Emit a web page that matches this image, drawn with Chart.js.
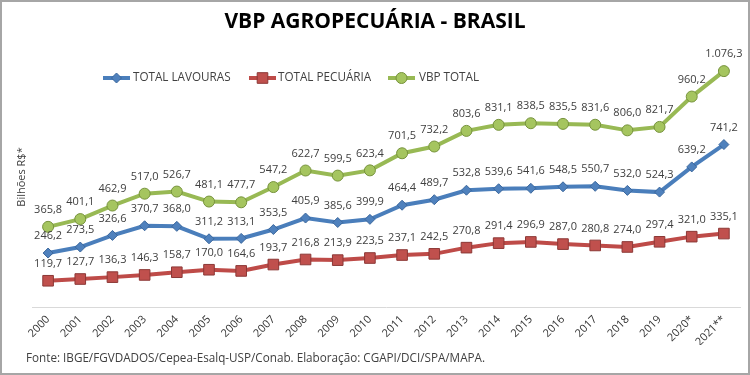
<!DOCTYPE html>
<html>
<head>
<meta charset="utf-8">
<script src="https://cdn.jsdelivr.net/npm/chart.js@4/dist/chart.umd.min.js"></script>
<style>
  html, body { margin: 0; padding: 0; background: #fff; }
  #wrap { width: 750px; height: 375px; position: relative; }
</style>
</head>
<body>
<div id="wrap"><canvas id="vbpChart" width="750" height="375"></canvas></div>
<script>
// anos e valores (bilhões R$)
const years = ['2000','2001','2002','2003','2004','2005','2006','2007','2008','2009','2010',
  '2011','2012','2013','2014','2015','2016','2017','2018','2019','2020*','2021**'];
const lavouras = [246.2, 273.5, 326.6, 370.7, 368.0, 311.2, 313.1, 353.5, 405.9, 385.6, 399.9,
  464.4, 489.7, 532.8, 539.6, 541.6, 548.5, 550.7, 532.0, 524.3, 639.2, 741.2];
const pecuaria = [119.7, 127.7, 136.3, 146.3, 158.7, 170.0, 164.6, 193.7, 216.8, 213.9, 223.5,
  237.1, 242.5, 270.8, 291.4, 296.9, 287.0, 280.8, 274.0, 297.4, 321.0, 335.1];
const vbpTotal = [365.8, 401.1, 462.9, 517.0, 526.7, 481.1, 477.7, 547.2, 622.7, 599.5, 623.4,
  701.5, 732.2, 803.6, 831.1, 838.5, 835.5, 831.6, 806.0, 821.7, 960.2, 1076.3];
const seriesNames = ['TOTAL LAVOURAS', 'TOTAL PECUÁRIA', 'VBP TOTAL'];

const FONT = '"Open Sans", "Noto Sans", sans-serif';
const TXT = '#404040';

// 1.076,3 style
function fmt(v) {
  const parts = v.toFixed(1).split('.');
  return parts[0].replace(/\B(?=(\d{3})+(?!\d))/g, '.') + ',' + parts[1];
}

// data labels, legend, y title, footer and frame
const extras = {
  id: 'extras',
  afterDatasetsDraw(chart) {
    const ctx = chart.ctx;
    ctx.save();
    ctx.font = '11px ' + FONT;
    ctx.fillStyle = TXT;
    ctx.textAlign = 'center';
    ctx.textBaseline = 'middle';
    chart.data.datasets.forEach((ds, i) => {
      chart.getDatasetMeta(i).data.forEach((pt, j) => {
        ctx.fillText(fmt(ds.data[j]), pt.x, pt.y - 17);
      });
    });
    ctx.restore();
  },
  afterDraw(chart) {
    const ctx = chart.ctx;
    ctx.save();

    // legend
    const legendY = 78;
    const items = [[103, 133], [249, 278], [388, 419]];
    ctx.font = '11.7px ' + FONT;
    ctx.textBaseline = 'middle';
    ctx.textAlign = 'left';
    chart.data.datasets.forEach((ds, i) => {
      const [x0, tx] = items[i];
      ctx.strokeStyle = ds.borderColor;
      ctx.lineWidth = 4;
      ctx.beginPath();
      ctx.moveTo(x0, legendY);
      ctx.lineTo(x0 + 27, legendY);
      ctx.stroke();
      ctx.fillStyle = ds.pointBackgroundColor;
      ctx.strokeStyle = ds.pointBorderColor;
      ctx.lineWidth = 1;
      Chart.helpers.drawPoint(ctx, { pointStyle: ds.pointStyle, radius: ds.pointRadius, borderWidth: 1 }, x0 + 13.5, legendY);
      ctx.fillStyle = TXT;
      ctx.fillText(seriesNames[i], tx, legendY);
    });

    // y axis title
    ctx.save();
    ctx.translate(22, 177);
    ctx.rotate(-Math.PI / 2);
    ctx.textAlign = 'center';
    ctx.font = '11px ' + FONT;
    ctx.fillStyle = TXT;
    ctx.fillText('Bilhões R$*', 0, 0);
    ctx.restore();

    // footer
    ctx.font = '11.7px ' + FONT;
    ctx.fillStyle = TXT;
    ctx.textAlign = 'left';
    ctx.fillText('Fonte: IBGE/FGVDADOS/Cepea-Esalq-USP/Conab. Elaboração: CGAPI/DCI/SPA/MAPA.', 26, 359);

    // frame
    ctx.strokeStyle = '#a6a6a6';
    ctx.lineWidth = 2;
    ctx.strokeRect(1, 1, chart.width - 2, chart.height - 2);
    ctx.restore();
  }
};

new Chart(document.getElementById('vbpChart'), {
  type: 'line',
  data: {
    labels: years,
    datasets: [
      {
        label: seriesNames[0], data: lavouras,
        borderColor: '#4a7ebb', borderWidth: 4,
        pointStyle: 'rectRot', pointRadius: 5, pointHoverRadius: 5,
        pointBackgroundColor: '#4f81bd', pointBorderColor: '#3b679c', pointBorderWidth: 1
      },
      {
        label: seriesNames[1], data: pecuaria,
        borderColor: '#be4b48', borderWidth: 4,
        pointStyle: 'rect', pointRadius: 7.5, pointHoverRadius: 7.5,
        pointBackgroundColor: '#c0504d', pointBorderColor: '#8c3836', pointBorderWidth: 1
      },
      {
        label: seriesNames[2], data: vbpTotal,
        borderColor: '#98b954', borderWidth: 4,
        pointStyle: 'circle', pointRadius: 5.5, pointHoverRadius: 5.5,
        pointBackgroundColor: '#a5c55f', pointBorderColor: '#76923c', pointBorderWidth: 1
      }
    ]
  },
  options: {
    responsive: false,
    animation: false,
    layout: { padding: { left: 10, right: 10, top: 0, bottom: 30 } },
    plugins: {
      legend: { display: false },
      tooltip: { enabled: false },
      title: {
        display: true,
        text: 'VBP AGROPECUÁRIA - BRASIL',
        color: '#000',
        font: { family: FONT, size: 21, weight: 'bold', lineHeight: '26px' },
        padding: { top: 9, bottom: 9 }
      }
    },
    scales: {
      x: {
        offset: true,
        grid: { display: false, drawTicks: false },
        border: { display: true, color: '#d9d9d9', width: 1 },
        ticks: { color: '#333', font: { family: FONT, size: 11 }, minRotation: 45, maxRotation: 45, padding: 6 },
        afterFit(scale) { scale.height = 38; }
      },
      y: {
        display: true,
        min: 0,
        max: 1200,
        grid: { display: false, drawTicks: false },
        border: { display: false },
        ticks: { display: false },
        afterFit(scale) { scale.width = 22; }
      }
    }
  },
  plugins: [extras]
});
</script>
</body>
</html>
